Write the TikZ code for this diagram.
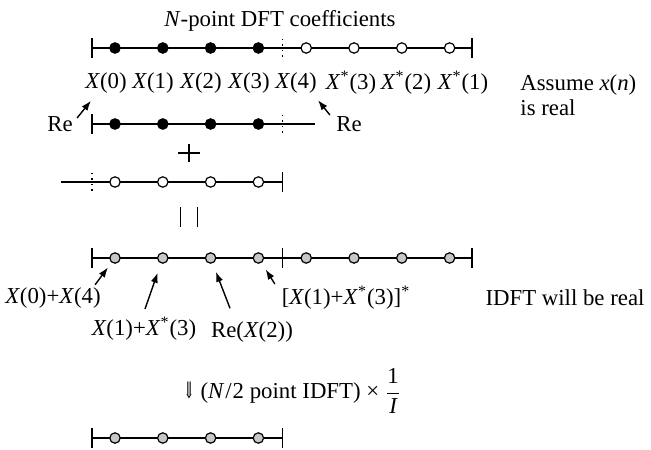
\documentclass[tikz,border=0pt]{standalone}
\usepackage{fontspec}
\usepackage{amsmath}
\setmainfont{Liberation Serif}
\newfontfamily\arrowfont{DejaVu Serif}
\usetikzlibrary{arrows.meta, calc}
\tikzset{
    dotbase/.style={
        circle,
        draw,
        line width=0.6pt,
        minimum size=5.2pt,
        inner sep=0pt
    },
    fulldot/.style={dotbase, fill=black},
    opendot/.style={dotbase, fill=white},
    graydot/.style={dotbase, fill=black!22},
    axis/.style={line width=0.6pt},
    halfmark/.style={dotted, line width=0.7pt},
    arr/.style={-{Latex[length=5pt, width=3.6pt]}, line width=0.7pt},
    lbl/.style={inner sep=0.5pt, font=\fontsize{11.4}{12.5}\selectfont}
}

\begin{document}
\begin{tikzpicture}[x=0.5pt, y=-0.5pt]
\useasboundingbox (0,0) rectangle (651,449);

% end points of the five rows
\coordinate (a0) at (92,48);   \coordinate (am) at (282.3,48);  \coordinate (a9) at (472,48);
\coordinate (b0) at (92,124);  \coordinate (bm) at (282.3,124); \coordinate (b9) at (315,124);
\coordinate (c0) at (61,182);  \coordinate (cm) at (92,182);    \coordinate (c9) at (282.3,182);
\coordinate (d0) at (92,258);  \coordinate (dm) at (282.3,258); \coordinate (d9) at (472,258);
\coordinate (e0) at (92,438);  \coordinate (e9) at (282.3,438);
\coordinate (plus) at (189,153);
\coordinate (equal) at (189,217);

\draw[axis] (a0) -- (a9);
\draw[axis] (b0) -- (b9);
\draw[axis] (c0) -- (c9);
\draw[axis] (d0) -- (d9);
\draw[axis] (e0) -- (e9);
\foreach \c in {a0,a9,b0,c9,d0,dm,d9,e0,e9}
    \draw[axis] (\c) ++(0,-10) -- ++(0,20);
\foreach \c in {am,bm,cm}
    \draw[halfmark] (\c) ++(0,-9) -- ++(0,18);

% plus and equal sign
\draw[line width=0.55pt] (plus) ++(-11,0) -- ++(22,0) (plus) ++(0,-9) -- ++(0,18);
\draw[line width=0.55pt] (equal) ++(-8.5,-10) -- ++(0,20) (equal) ++(8.5,-10) -- ++(0,20);

% samples
\foreach \i in {1,...,4} {
    \node[fulldot] (a\i) at ({115+47.8*(\i-1)},48) {};
    \node[fulldot] (b\i) at ({115+47.8*(\i-1)},124) {};
    \node[opendot] (c\i) at ({115+47.8*(\i-1)},182) {};
    \node[graydot] (e\i) at ({115+47.8*(\i-1)},438) {};
}
\foreach \i in {5,...,8}
    \node[opendot] (a\i) at ({115+47.8*(\i-1)},48) {};
\foreach \i in {1,...,8}
    \node[graydot] (d\i) at ({115+47.8*(\i-1)},258) {};

% labels
\node[lbl] (title) at (280,21) {\textit{N}-point DFT coefficients};
\node[lbl] (x0) at (106,83) {\textit{X}(0)};
\node[lbl] (x1) at (153,83) {\textit{X}(1)};
\node[lbl] (x2) at (201,83) {\textit{X}(2)};
\node[lbl] (x3) at (249,83) {\textit{X}(3)};
\node[lbl] (x4) at (296,83) {\textit{X}(4)};
\node[lbl] (xs3) at (351,83) {\textit{X}\textsuperscript{*}(3)};
\node[lbl] (xs2) at (406,83) {\textit{X}\textsuperscript{*}(2)};
\node[lbl] (xs1) at (463,83) {\textit{X}\textsuperscript{*}(1)};
\node[lbl, anchor=west, align=left] (assume) at (519,95) {Assume \textit{x}(\textit{n})\\is real};
\node[lbl] (reL) at (60,124) {Re};
\node[lbl] (reR) at (349,124) {Re};
\node[lbl] (l1) at (53,298) {\textit{X}(0)+\textit{X}(4)};
\node[lbl] (l2) at (144,329) {\textit{X}(1)+\textit{X}\textsuperscript{*}(3)};
\node[lbl] (l3) at (252,332) {Re(\textit{X}(2))};
\node[lbl] (l4) at (346,298) {[\textit{X}(1)+\textit{X}\textsuperscript{*}(3)]\textsuperscript{*}};
\node[lbl] (idft) at (565,298) {IDFT will be real};
\node[lbl, anchor=west] (scaling) at (182,391) {\scalebox{0.6}[1]{\arrowfont ⇓} (\textit{N}\kern0.5pt/\kern0.5pt2 point IDFT) × $\dfrac{\text{1}}{\textit{I}}$};

% arrows
\draw[arr] ($(reL.north east)+(3,3)$) -- ($(x0.south west)+(7,6)$);
\draw[arr] ($(reR.north west)+(-5,0)$) -- ($(x4.south east)+(0,5.5)$);
\draw[arr, shorten >=3pt] ($(l1.north east)+(-7,-1.5)$) -- (d1);
\draw[arr, shorten >=4.9pt] ($(l2.north)+(1,-7)$) -- (d2);
\draw[arr, shorten >=4.5pt] ($(l3.north)+(-22,-12)$) -- (d3);
\draw[arr, shorten >=3.9pt] ($(l4.north west)+(-5.5,-1)$) -- (d4);
\end{tikzpicture}
\end{document}
